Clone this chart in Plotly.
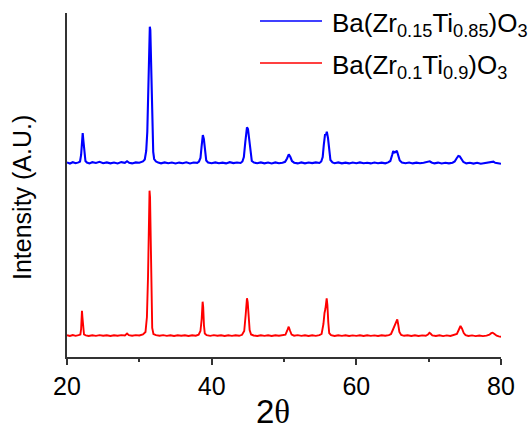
import plotly.graph_objects as go

# ---- data (A.U., offset traces as plotted) ----
bzt15_2theta = [20.0, 20.4, 20.8, 21.2, 21.6, 21.8, 21.95, 22.07, 22.17, 22.27, 22.4, 22.55, 22.75, 23.1, 23.5,
                24.0, 24.5, 25.0, 25.5, 26.0, 26.5, 27.0, 27.5, 28.0, 28.3, 28.6, 29.0, 29.5, 30.0, 30.5,
                30.75, 30.95, 31.1, 31.2, 31.3, 31.38, 31.45, 31.52, 31.6, 31.7, 31.8, 31.92, 32.05, 32.3, 32.6, 33.0,
                33.5, 34.0, 34.5, 35.0, 35.5, 36.0, 36.5, 37.0, 37.5, 38.0, 38.25, 38.45, 38.6, 38.78, 38.92,
                39.08, 39.25, 39.5, 40.0, 40.5, 41.0, 41.5, 42.0, 42.5, 43.0, 43.5, 44.0, 44.25, 44.45, 44.65,
                44.88, 45.02, 45.2, 45.38, 45.55, 45.85, 46.3, 46.8, 47.3, 47.8, 48.3, 48.8, 49.3, 49.8, 50.15,
                50.42, 50.66, 50.88, 51.1, 51.4, 51.9, 52.4, 52.9, 53.4, 53.9, 54.4, 54.9, 55.15, 55.35,
                55.5, 55.68, 55.8, 55.92, 56.08, 56.25, 56.42, 56.7, 57.0, 57.5, 58.0, 58.5, 59.0, 59.5,
                60.0, 60.5, 61.0, 61.5, 62.0, 62.5, 63.0, 63.5, 64.0, 64.4, 64.7, 64.95, 65.1, 65.25, 65.45,
                65.6, 65.8, 66.0, 66.3, 66.8, 67.3, 67.8, 68.3, 68.8, 69.3, 69.7, 69.95, 70.15, 70.4, 70.8,
                71.3, 71.8, 72.3, 72.8, 73.3, 73.6, 73.85, 74.1, 74.3, 74.55, 74.8, 75.2, 75.7, 76.2, 76.7,
                77.2, 77.7, 78.1, 78.4, 78.7, 78.95, 79.2, 79.6, 80.0]
bzt15_intensity = [194.5, 193.5, 194.8, 193.8, 194.6, 195.5, 202, 215, 224, 216, 203, 196, 194.5, 193.6, 194.8,
                   194.0, 195.2, 193.8, 194.6, 193.7, 194.5, 193.6, 194.9, 194.2, 195.8, 194.2, 193.6, 194.6, 194.2, 195.6,
                   197.5, 206, 225, 262, 305, 326, 330.3, 327, 305, 262, 225, 205, 198, 195.5, 194.4, 193.7,
                   194.6, 193.8, 194.5, 193.5, 194.4, 193.8, 194.7, 193.6, 194.5, 194.2, 195.5, 199, 210, 222, 218,
                   204, 196.5, 194.5, 193.8, 194.6, 193.7, 194.4, 193.6, 194.8, 193.9, 194.5, 194.0, 195.5, 200, 215,
                   229.7, 228, 216, 202, 196, 194.4, 193.8, 194.6, 193.7, 194.5, 193.6, 194.6, 193.8, 194.3, 195.2,
                   198.5, 202.7, 200, 196, 194.3, 193.6, 194.6, 193.7, 194.5, 193.9, 194.6, 194.0, 195.5, 200,
                   212, 223, 222, 225.3, 219, 205, 197, 194.6, 193.8, 194.6, 193.7, 194.4, 193.6, 194.5,
                   193.8, 194.6, 193.7, 194.3, 193.6, 194.5, 193.8, 194.4, 193.7, 194.6, 196, 202, 206, 204.5, 205,
                   206.3, 201, 196.5, 194.5, 193.8, 194.5, 193.6, 194.4, 193.7, 194.3, 194.8, 195.8, 195.7, 194.5, 193.6,
                   194.4, 193.5, 194.2, 193.6, 194.3, 195.5, 198.5, 201, 200.5, 197.5, 195, 193.6, 194.3, 193.4, 194.2,
                   193.3, 194.0, 194.3, 195, 195.5, 195.3, 194.2, 193.5, 193.2]

bzt10_2theta = [20.0, 20.4, 20.8, 21.2, 21.6, 21.85, 21.95, 22.02, 22.07, 22.13, 22.22, 22.35, 22.6, 23.0, 23.5,
                24.0, 24.5, 25.0, 25.5, 26.0, 26.5, 27.0, 27.5, 28.0, 28.3, 28.55, 29.0, 29.5, 30.0, 30.5,
                30.85, 31.05, 31.2, 31.32, 31.41, 31.48, 31.56, 31.66, 31.78, 31.95, 32.3, 32.8, 33.3, 33.8,
                34.3, 34.8, 35.3, 35.8, 36.3, 36.8, 37.3, 37.8, 38.2, 38.45, 38.62, 38.75, 38.83, 38.93, 39.05,
                39.3, 39.8, 40.3, 40.8, 41.3, 41.8, 42.3, 42.8, 43.3, 43.8, 44.2, 44.5, 44.7, 44.88, 44.98,
                45.1, 45.25, 45.45, 45.8, 46.3, 46.8, 47.3, 47.8, 48.3, 48.8, 49.3, 49.8, 50.2, 50.45, 50.65,
                50.85, 51.05, 51.4, 51.9, 52.4, 52.9, 53.4, 53.9, 54.4, 54.9, 55.2, 55.45, 55.6, 55.72, 55.9,
                56.0, 56.12, 56.25, 56.5, 57.0, 57.5, 58.0, 58.5, 59.0, 59.5, 60.0, 60.5, 61.0, 61.5, 62.0,
                62.5, 63.0, 63.5, 64.0, 64.5, 64.8, 65.1, 65.3, 65.5, 65.66, 65.8, 65.95, 66.2, 66.6, 67.1,
                67.6, 68.1, 68.6, 69.1, 69.6, 69.9, 70.1, 70.25, 70.5, 71.0, 71.5, 72.0, 72.5, 73.0, 73.5,
                73.9, 74.15, 74.4, 74.6, 74.85, 75.1, 75.5, 76.0, 76.5, 77.0, 77.5, 78.0, 78.4, 78.65, 78.85,
                79.1, 79.4, 79.7, 80.0]
bzt10_intensity = [21.8, 21.0, 22.0, 21.2, 21.9, 22.5, 28, 40, 46.3, 40, 27, 22.5, 21.6, 21.0, 21.8,
                   21.1, 21.9, 21.2, 21.7, 21.0, 21.8, 21.2, 21.9, 21.6, 23.5, 21.8, 21.2, 21.9, 21.5, 22.6,
                   25, 40, 80, 140, 166.3, 160, 110, 55, 29, 23, 21.8, 21.2, 21.9, 21.1,
                   21.8, 21.0, 21.7, 21.2, 21.8, 21.0, 21.8, 21.3, 22.3, 26, 38, 55.3, 50, 32, 23.5,
                   21.8, 21.1, 21.9, 21.2, 21.8, 21.0, 21.7, 21.1, 21.8, 21.2, 22.2, 26, 42, 58.7, 55,
                   42, 27, 22.5, 21.5, 21.0, 21.8, 21.1, 21.7, 21.0, 21.8, 21.2, 21.6, 22.4, 26.5, 30.3,
                   26, 22.5, 21.3, 21.9, 21.1, 21.8, 21.0, 21.7, 21.1, 21.8, 23, 33, 44, 48, 58.7,
                   52, 35, 24, 21.8, 21.0, 21.8, 21.1, 21.7, 21.0, 21.6, 21.1, 21.8, 21.0, 21.7, 21.1,
                   21.6, 21.0, 21.7, 21.2, 21.9, 23, 28, 31, 35, 37.7, 32, 25, 22, 21.2, 21.8,
                   21.0, 21.7, 21.0, 21.6, 21.2, 22.5, 24.3, 23.5, 21.6, 21.0, 21.7, 20.9, 21.6, 21.0, 21.8,
                   23, 27, 31, 28.5, 24, 21.8, 21.0, 21.6, 20.9, 21.5, 20.9, 21.4, 22.3, 23.8, 24.3,
                   23, 21.3, 20.6, 20.3]

x_ticks = [20, 40, 60, 80]
series_names = ["Ba(Zr<sub>0.15</sub>Ti<sub>0.85</sub>)O<sub>3</sub>",
                "Ba(Zr<sub>0.1</sub>Ti<sub>0.9</sub>)O<sub>3</sub>"]
series_colors = ["#0000FF", "#FF0000"]

FONT = "Liberation Sans, Arial, sans-serif"
AX = "#333333"

fig = go.Figure()
fig.add_trace(go.Scatter(x=bzt15_2theta, y=bzt15_intensity, mode="lines", name=series_names[0],
                         line=dict(color=series_colors[0], width=2.1), showlegend=False))
fig.add_trace(go.Scatter(x=bzt10_2theta, y=bzt10_intensity, mode="lines", name=series_names[1],
                         line=dict(color=series_colors[1], width=1.9), showlegend=False))

W, H = 528, 430
L, R, T, B = 67, 27, 13, 73
pw, ph = W - L - R, H - T - B


def px(xp):
    return (xp - L) / pw


def py(yp):
    return 1 - (yp - T) / ph


# custom legend (line sample + label), matching reference geometry
legend_rows = [21, 63]
for name, color, yrow in zip(series_names, series_colors, legend_rows):
    fig.add_shape(type="line", xref="paper", yref="paper",
                  x0=px(260), x1=px(322), y0=py(yrow), y1=py(yrow),
                  line=dict(color=color, width=1.3))
    fig.add_annotation(x=px(330), y=py(yrow + 3), xref="paper", yref="paper",
                       text=name, showarrow=False, xanchor="left", yanchor="middle",
                       font=dict(family=FONT, size=26, color="black"))

# axis titles
fig.add_annotation(x=px(22), y=py(198), xref="paper", yref="paper",
                   text="Intensity (A.U.)", textangle=-90, showarrow=False,
                   xanchor="center", yanchor="middle",
                   font=dict(family=FONT, size=25, color="black"))
fig.add_annotation(x=px(273), y=py(411), xref="paper", yref="paper",
                   text="2<span style='font-family:Liberation Serif'>θ</span>", showarrow=False,
                   xanchor="center", yanchor="middle",
                   font=dict(family=FONT, size=33, color="black"))

fig.update_layout(
    width=W, height=H, autosize=False,
    margin=dict(l=L, r=R, t=T, b=B, pad=0),
    paper_bgcolor="white", plot_bgcolor="white",
    showlegend=False,
    xaxis=dict(range=[20, 80], tickvals=x_ticks, ticks="outside", ticklen=6, tickwidth=1.5,
               tickcolor=AX, showline=True, linecolor=AX, linewidth=1.5, showgrid=False,
               zeroline=False, tickfont=dict(family=FONT, size=25, color="black"),
               minor=dict(tickvals=[30, 50, 70], ticks="outside", ticklen=3, tickwidth=1.5, tickcolor=AX)),
    yaxis=dict(range=[0, 344], showticklabels=False, ticks="", showline=True, linecolor=AX,
               linewidth=1.5, showgrid=False, zeroline=False),
)

fig.write_html("out.html")
